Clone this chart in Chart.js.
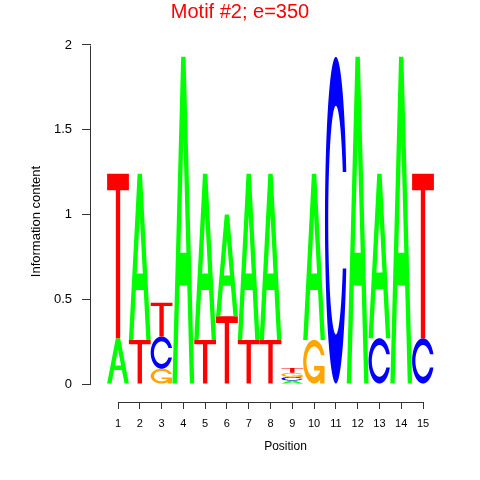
<!DOCTYPE html>
<html><head><meta charset="utf-8">
<script src="https://cdn.jsdelivr.net/npm/chart.js@4"></script>
<style>html,body{margin:0;padding:0;background:#fff}</style>
</head><body>
<canvas id="c" width="480" height="480"></canvas>
<script>
// ---- data (information content, bits, per base per position) ----
const positions = [1,2,3,4,5,6,7,8,9,10,11,12,13,14,15];
const heightA = [0.27, 0.98, 0,    1.93, 0.98, 0.60, 0.98, 0.98, 0.020, 0.98, 0,    1.93, 0.97, 1.93, 0];
const heightC = [0,    0,    0.19, 0,    0,    0,    0,    0,    0.022, 0,    1.93, 0,    0.27, 0,    0.27];
const heightG = [0,    0,    0.09, 0,    0,    0,    0,    0,    0.024, 0.26, 0,    0,    0,    0,    0];
const heightT = [0.97, 0.26, 0.20, 0,    0.26, 0.40, 0.26, 0.26, 0.028, 0,    0,    0,    0,    0,    0.97];
const yTickValues = [0, 0.5, 1, 1.5, 2];
const xTickValues = positions;
const titleText = 'Motif #2; e=350';

const FONT = "'Liberation Sans', Arial, Helvetica, sans-serif";
const letterColors = {A:'#00FF00', C:'#0000FF', G:'#FFA500', T:'#FF0000'};

// ---- build stacked layers (smallest letter at bottom) ----
const baseHeights = {A: heightA, C: heightC, G: heightG, T: heightT};
const baseOrder = ['A','C','G','T'];
const layers = [[],[],[],[]];
positions.forEach((p, i) => {
  const col = baseOrder.map(b => ({b, h: baseHeights[b][i]})).filter(o => o.h > 0).sort((a, b) => a.h - b.h);
  for (let k = 0; k < 4; k++) {
    const o = col[k];
    layers[k].push({x: p, y: o ? o.h : 0, letter: o ? o.b : null});
  }
});

// ---- letter shapes (unit square, y up), after seqLogo ----
function seq(a, b, n) { const r = []; for (let i = 0; i < n; i++) r.push(a + (b - a) * i / (n - 1)); return r; }
function ringShape() {
  const a1 = seq(0.3 + Math.PI/2, Math.PI, 100), a2 = seq(Math.PI, 1.5*Math.PI, 100);
  const xl1 = a1.map(a => 0.5 + 0.5*Math.sin(a)), yl1 = a1.map(a => 0.5 + 0.5*Math.cos(a));
  const xl2 = a2.map(a => 0.5 + 0.5*Math.sin(a)), yl2 = a2.map(a => 0.5 + 0.5*Math.cos(a));
  const xl = xl1.concat(xl2), yl = yl1.concat(yl2);
  let X = xl.concat(xl.slice().reverse());
  let Y = yl.concat(yl.slice().reverse().map(v => 1 - v));
  const maxY1 = Math.max(...yl1);
  let xi1 = a1.map(a => 0.5 + 0.35*Math.sin(a)), yi1 = a1.map(a => 0.5 + 0.35*Math.cos(a));
  const keep = yi1.map(v => v <= maxY1);
  xi1 = xi1.filter((_, i) => keep[i]); yi1 = yi1.filter((_, i) => keep[i]); yi1[0] = maxY1;
  const xi2 = a2.map(a => 0.5 + 0.35*Math.sin(a)), yi2 = a2.map(a => 0.5 + 0.35*Math.cos(a));
  const xi = xi1.concat(xi2), yi = yi1.concat(yi2);
  const X1 = xi.concat(xi.slice().reverse()), Y1 = yi.concat(yi.slice().reverse().map(v => 1 - v));
  X = X.concat(X1.slice().reverse()); Y = Y.concat(Y1.slice().reverse());
  return {pts: X.map((x, i) => [x, Y[i]]), r1: Math.max(...xl1)};
}
const ring = ringShape();
const shapes = {
  A: [[[0,0],[0.4,1],[0.6,1],[1,0],[0.8,0],[0.68,0.3],[0.32,0.3],[0.2,0]], [[0.36,0.4],[0.5,0.75],[0.64,0.4]]],
  T: [[[0,1],[1,1],[1,0.9],[0.6,0.9],[0.6,0],[0.4,0],[0.4,0.9],[0,0.9]]],
  C: [ring.pts],
  G: [ring.pts, [[ring.r1,0.4],[0.5,0.4],[0.5,0.3],[ring.r1-0.2,0.3],[ring.r1-0.2,0],[ring.r1,0]]]
};

function drawLetter(ctx, letter, left, base, w, h) {
  ctx.save();
  ctx.fillStyle = letterColors[letter];
  const polys = shapes[letter];
  if (letter === 'A') {
    ctx.beginPath();
    polys.forEach(poly => {
      poly.forEach(([ux, uy], j) => { const px = left + ux*w, py = base - uy*h; j ? ctx.lineTo(px, py) : ctx.moveTo(px, py); });
      ctx.closePath();
    });
    ctx.fill('evenodd');
  } else {
    polys.forEach(poly => {
      ctx.beginPath();
      poly.forEach(([ux, uy], j) => { const px = left + ux*w, py = base - uy*h; j ? ctx.lineTo(px, py) : ctx.moveTo(px, py); });
      ctx.closePath();
      ctx.fill();
    });
  }
  ctx.restore();
}

const logoPlugin = {
  id: 'logoLetters',
  afterDatasetsDraw(chart) {
    const ctx = chart.ctx;
    chart.data.datasets.forEach((ds, di) => {
      const meta = chart.getDatasetMeta(di);
      meta.data.forEach((el, i) => {
        const raw = ds.data[i];
        if (!raw.letter || raw.y <= 0) return;
        const p = el.getProps(['x','y','base','width'], true);
        drawLetter(ctx, raw.letter, p.x - p.width/2, p.base, p.width, p.base - p.y);
      });
    });
  }
};

const axisLinePlugin = {
  id: 'axisLines',
  afterDraw(chart) {
    const ctx = chart.ctx, xs = chart.scales.x, ys = chart.scales.y, ca = chart.chartArea;
    ctx.save();
    ctx.strokeStyle = '#333';
    ctx.lineWidth = 1;
    const xl = Math.round(ca.left) - 0.5;
    ctx.beginPath();
    ctx.moveTo(xl, Math.round(ys.getPixelForValue(yTickValues[0])) + 0.5);
    ctx.lineTo(xl, Math.round(ys.getPixelForValue(yTickValues[yTickValues.length-1])) + 0.5);
    const yb = Math.round(ca.bottom) + 0.5;
    ctx.moveTo(Math.round(xs.getPixelForValue(xTickValues[0])) + 0.5, yb);
    ctx.lineTo(Math.round(xs.getPixelForValue(xTickValues[xTickValues.length-1])) + 0.5, yb);
    ctx.stroke();
    ctx.restore();
  }
};

const yPxPerUnit = 169.5;
const chartTop = 41, chartBottom = 402;
const yMin = -(chartBottom - 384) / yPxPerUnit;
const yMax = 2 + (45 - chartTop) / yPxPerUnit;
const xPxPerUnit = 21.786;
const xMin = 1 - (118 - 91) / xPxPerUnit;
const xMax = 1 + (480 - 118) / xPxPerUnit;

new Chart(document.getElementById('c'), {
  type: 'bar',
  data: {
    datasets: layers.map((layer, k) => ({
      label: 'layer ' + k,
      data: layer,
      backgroundColor: 'rgba(0,0,0,0)',
      borderWidth: 0,
      barPercentage: 1,
      categoryPercentage: 1
    }))
  },
  options: {
    responsive: false,
    animation: false,
    layout: {padding: 0},
    plugins: {
      legend: {display: false},
      tooltip: {enabled: false},
      title: {
        display: true, text: titleText, color: '#FF0000',
        font: {family: FONT, size: 20, weight: 'normal'},
        padding: {top: 0, bottom: 17}
      }
    },
    scales: {
      x: {
        type: 'linear', stacked: true, min: xMin, max: xMax, offset: false,
        afterBuildTicks(s) { s.ticks = xTickValues.map(v => ({value: v})); },
        afterFit(s) { s.height = 78; },
        border: {display: false},
        grid: {offset: false, drawOnChartArea: false, drawTicks: true, tickLength: 7, color: '#333'},
        ticks: {autoSkip: false, maxRotation: 0, padding: 8, color: '#000', font: {family: FONT, size: 11},
          callback: v => String(v)},
        title: {display: true, text: 'Position', color: '#000', font: {family: FONT, size: 12}, padding: {top: 0, bottom: 26}}
      },
      y: {
        type: 'linear', stacked: true, min: yMin, max: yMax,
        afterBuildTicks(s) { s.ticks = yTickValues.map(v => ({value: v})); },
        afterFit(s) { s.width = 91; },
        border: {display: false},
        grid: {drawOnChartArea: false, drawTicks: true, tickLength: 9, color: '#333'},
        ticks: {padding: 10, color: '#000', font: {family: FONT, size: 13}, callback: v => String(v)},
        title: {display: true, text: 'Information content', color: '#000', font: {family: FONT, size: 13}, padding: {top: 29, bottom: 0}}
      }
    }
  },
  plugins: [logoPlugin, axisLinePlugin]
});
</script>
</body></html>
